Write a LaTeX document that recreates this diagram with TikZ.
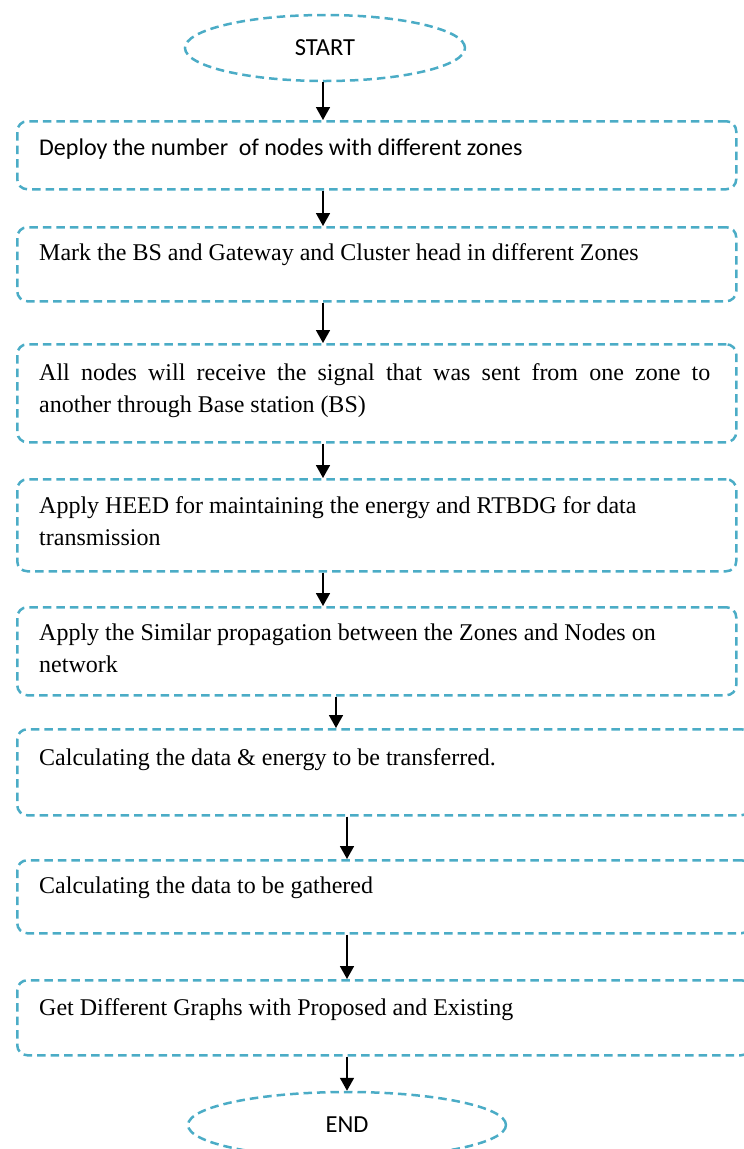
\documentclass[tikz,border=0pt]{standalone}
\usepackage{fontspec}
\setmainfont{Liberation Serif}
\newfontfamily\calib{Carlito}
\usetikzlibrary{arrows.meta,shapes.geometric}
\definecolor{aqua}{HTML}{4BACC6}
\tikzset{
  dash line/.style={draw=aqua, line width=2.5pt, dash pattern=on 8.5pt off 5pt},
  stepbox/.style={dash line, rounded corners=10pt, inner sep=0pt, anchor=north west},
  terminal/.style={dash line, ellipse, inner sep=0pt, font=\calib\fontsize{24.5}{29}\selectfont},
  label/.style={anchor=base west, inner sep=0pt, font=\fontsize{24}{32}\selectfont, align=left},
  calibtext/.style={anchor=base west, inner sep=0pt, font=\calib\fontsize{24}{29}\selectfont},
  arr/.style={line width=1.7pt, -{Triangle[length=13pt,width=14pt]}}
}
\begin{document}
\begin{tikzpicture}[x=1pt,y=-1pt]
\useasboundingbox (0,0) rectangle (744,1149);
\clip (0,0) rectangle (744,1149);

% terminals
\node[terminal, minimum width=280pt, minimum height=66pt] (start) at (325,48) {START};
\node[terminal, minimum width=318pt, minimum height=66pt] (end) at (347,1125) {END};

% process boxes
\node[stepbox, minimum width=719pt, minimum height=68pt] (b1) at (16,120) {};
\node[stepbox, minimum width=719pt, minimum height=74pt] (b2) at (16,226) {};
\node[stepbox, minimum width=719pt, minimum height=98pt] (b3) at (16,343) {};
\node[stepbox, minimum width=719pt, minimum height=92pt] (b4) at (16,478) {};
\node[stepbox, minimum width=719pt, minimum height=88pt] (b5) at (16,606) {};
\node[stepbox, minimum width=734pt, minimum height=86pt] (b6) at (16,728) {};
\node[stepbox, minimum width=734pt, minimum height=73pt] (b7) at (16,859) {};
\node[stepbox, minimum width=734pt, minimum height=75pt] (b8) at (16,979) {};

% box texts (multi-line texts are placed by the baseline of their last line)
\node[calibtext] (t1) at (39,155) {Deploy the number~ of nodes with different zones};
\node[label] (t2) at (39,260) {Mark the BS and Gateway and Cluster head in different Zones};
\node[label] (t3) at (39,412)
  {\makebox[671pt][s]{All nodes will receive the signal that was sent from one zone to}\\another through Base station (BS)};
\node[label] (t4) at (39,545) {Apply HEED for maintaining the energy and RTBDG for data\\transmission};
\node[label] (t5) at (39,672) {Apply the Similar propagation between the Zones and Nodes on\\network};
\node[label] (t6) at (39,765) {Calculating the data \& energy to be transferred.};
\node[label] (t7) at (39,893) {Calculating the data to be gathered};
\node[label] (t8) at (39,1015) {Get Different Graphs with Proposed and Existing};

% arrow columns
\coordinate (ax1) at (323,0);
\coordinate (ax2) at (336,0);
\coordinate (ax3) at (347,0);

% connectors
\draw[arr] (start.south -| ax1) -- (b1.north -| ax1);
\draw[arr] (b1.south -| ax1) -- (b2.north -| ax1);
\draw[arr] (b2.south -| ax1) -- (b3.north -| ax1);
\draw[arr] (b3.south -| ax1) -- (b4.north -| ax1);
\draw[arr] (b4.south -| ax1) -- (b5.north -| ax1);
\draw[arr] (b5.south -| ax2) -- (b6.north -| ax2);
\draw[arr] (b6.south -| ax3) -- (b7.north -| ax3);
\draw[arr] (b7.south -| ax3) -- (b8.north -| ax3);
\draw[arr] (b8.south -| ax3) -- (end.north);
\end{tikzpicture}
\end{document}
